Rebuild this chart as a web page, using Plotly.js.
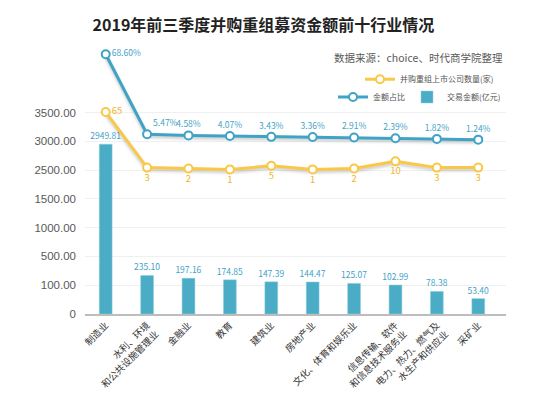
<!DOCTYPE html>
<html>
<head>
<meta charset="utf-8">
<script src="https://cdn.plot.ly/plotly-3.0.1.min.js"></script>
<style>
  html, body { margin: 0; padding: 0; background: #ffffff; }
  #chart { width: 554px; height: 395px; }
  #chart .scatterlayer .js-line { filter: drop-shadow(0px 2px 1.5px rgba(0,0,0,0.22)); }
</style>
</head>
<body>
<div id="chart"></div>
<script>
// ---- data ----
const categories = ['制造业', '水利、环境和公共设施管理业', '金融业', '教育', '建筑业', '房地产业', '文化、体育和娱乐业', '信息传输、软件和信息技术服务业', '电力、热力、燃气及水生产和供应业', '采矿业'];
const categoryLabels = ['制造业', '水利、环境<br>和公共设施管理业', '金融业', '教育', '建筑业', '房地产业', '文化、体育和娱乐业', '信息传输、软件<br>和信息技术服务业', '电力、热力、燃气及<br>水生产和供应业', '采矿业'];
const amounts = [2949.81, 235.10, 197.16, 174.85, 147.39, 144.47, 125.07, 102.99, 78.38, 53.40];
const shares = [68.60, 5.47, 4.58, 4.07, 3.43, 3.36, 2.91, 2.39, 1.82, 1.24];
const counts = [65, 3, 2, 1, 5, 1, 2, 10, 3, 3];
const axisBreaks = [0, 100, 500, 1000, 1500, 2500, 3000, 3500];
const axisLabels = ['0', '100.00', '500.00', '1000.00', '1500.00', '2500.00', '3000.00', '3500.00'];

// piecewise-linear value axis as in the original (equal spacing between the listed ticks)
function toAxis(v) {
  for (let i = 1; i < axisBreaks.length; i++) {
    if (v <= axisBreaks[i]) {
      const a = axisBreaks[i - 1], b = axisBreaks[i];
      return (i - 1) + (v - a) / (b - a);
    }
  }
  const n = axisBreaks.length - 1;
  return n + (v - axisBreaks[n]) / (axisBreaks[n] - axisBreaks[n - 1]);
}

const BAR = '#4BACC6';
const BLUE = '#3FA3C6';
const YELLOW = '#F9C846';
const YTEXT = '#F2B32C';
const CJK = '"Noto Sans CJK SC", "Noto Sans", sans-serif';

const traces = [
  {
    type: 'bar', name: '交易金额(亿元)',
    x: categories, y: amounts.map(toAxis),
    customdata: amounts,
    text: amounts.map(v => v.toFixed(2)),
    textposition: 'outside', cliponaxis: false, constraintext: 'none',
    outsidetextfont: { family: CJK, size: 8.5, color: BLUE },
    marker: { color: BAR, line: { color: '#8fd0e2', width: 0.5 } },
    width: 0.31,
    legend: 'legend3',
    hovertemplate: '%{x}: %{customdata}<extra></extra>'
  },
  {
    type: 'scatter', mode: 'lines+markers+text', name: '金额占比',
    x: categories, y: shares, yaxis: 'y2',
    text: shares.map(v => v.toFixed(2) + '%'),
    textposition: shares.map((v, i) => i === 0 ? 'middle right' : (i === 1 ? 'top right' : 'top center')),
    textfont: { family: CJK, size: 8.5, color: BLUE },
    line: { color: BLUE, width: 3 },
    marker: { symbol: 'circle', size: 8, color: '#ffffff', line: { color: BLUE, width: 2 } },
    cliponaxis: false,
    legend: 'legend2'
  },
  {
    type: 'scatter', mode: 'lines+markers+text', name: '并购重组上市公司数量(家)',
    x: categories, y: counts, yaxis: 'y3',
    text: counts.map(String),
    textposition: counts.map((v, i) => i === 0 ? 'middle right' : 'bottom center'),
    textfont: { family: CJK, size: 9.5, color: YTEXT },
    line: { color: YELLOW, width: 3 },
    marker: { symbol: 'circle', size: 8, color: '#ffffff', line: { color: YELLOW, width: 2 } },
    cliponaxis: false,
    legend: 'legend'
  }
];

const legendCommon = {
  orientation: 'h', xref: 'paper', yref: 'paper',
  xanchor: 'left', yanchor: 'middle',
  bgcolor: 'rgba(0,0,0,0)',
  font: { family: CJK, size: 8, color: '#555555' }
};

const layout = {
  width: 554, height: 395,
  margin: { l: 85, r: 48, t: 50, b: 81, pad: 0 },
  paper_bgcolor: '#ffffff', plot_bgcolor: '#ffffff',
  showlegend: true,
  title: {
    text: '2019年前三季度并购重组募资金额前十行业情况',
    font: { family: CJK, size: 16, color: '#222222', weight: 'bold' },
    x: 0.4756, xanchor: 'center', xref: 'container',
    y: 1 - 25 / 395, yanchor: 'middle', yref: 'container'
  },
  xaxis: {
    type: 'category',
    categoryorder: 'array', categoryarray: categories,
    tickvals: categories, ticktext: categoryLabels,
    range: [-0.5, 9.67],
    tickangle: -45,
    tickfont: { family: CJK, size: 9.5, color: '#333333' },
    showline: true, linecolor: '#bdbdbd', linewidth: 2,
    showgrid: false, ticks: '', zeroline: false
  },
  yaxis: {
    range: [0, 9.17],
    tickvals: axisBreaks.map(toAxis), ticktext: axisLabels,
    tickfont: { family: 'Liberation Sans, Arial, sans-serif', size: 11.5, color: '#595959' },
    showgrid: true, gridcolor: '#f0f0f0', gridwidth: 1,
    zeroline: false, showline: false, ticks: '', ticklabelstandoff: 8
  },
  yaxis2: {
    overlaying: 'y', side: 'right', range: [-136.4, 72.0],
    visible: false, showgrid: false, zeroline: false
  },
  yaxis3: {
    overlaying: 'y', side: 'right', range: [-160.4, 134.3],
    visible: false, showgrid: false, zeroline: false
  },
  legend: Object.assign({}, legendCommon, { x: (360 - 85) / 421, y: (314 - 79.3) / 264 }),
  legend2: Object.assign({}, legendCommon, { x: (333 - 85) / 421, y: (314 - 97) / 264 }),
  legend3: Object.assign({}, legendCommon, { x: (407 - 85) / 421, y: (314 - 97) / 264 }),
  annotations: [
    {
      text: '数据来源：choice、时代商学院整理',
      xref: 'paper', yref: 'paper',
      x: (332 - 85) / 421, y: (314 - 57.3) / 264,
      xanchor: 'left', yanchor: 'middle', showarrow: false,
      font: { family: CJK, size: 10.5, color: '#595959' }
    }
  ]
};

Plotly.newPlot('chart', traces, layout, { displayModeBar: false, staticPlot: true });
</script>
</body>
</html>
